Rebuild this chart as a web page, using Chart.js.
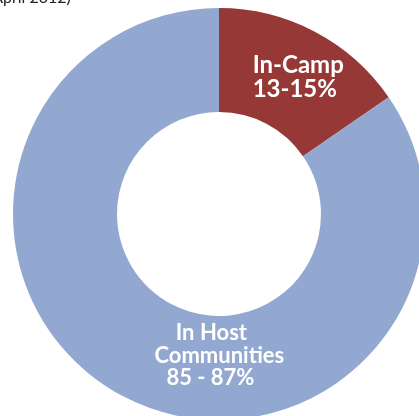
<!DOCTYPE html>
<html>
<head>
<meta charset="utf-8">
<script src="https://cdn.jsdelivr.net/npm/chart.js@4"></script>
<style>
html,body{margin:0;padding:0;width:419px;height:416px;overflow:hidden;background:#fff;}
#wrap{position:absolute;left:0;top:0;width:438px;height:428px;}
</style>
</head>
<body>
<div id="wrap"><canvas id="c"></canvas></div>
<script>
const categories = ["In-Camp", "In Host Communities"];
const labelLines = [["In-Camp", "13-15%"], ["In Host", "Communities", "85 - 87%"]];
const values = [15.4, 84.6];
const colors = ["#963835", "#93A8D0"];
const captionText = "(April 2012)";

const labelPlugin = {
  id: 'labels',
  afterDraw(chart) {
    const ctx = chart.ctx;
    const meta = chart.getDatasetMeta(0);
    ctx.save();
    ctx.fillStyle = '#ffffff';
    ctx.textBaseline = 'alphabetic';
    // In-Camp
    let tp = meta.data[0].tooltipPosition();
    ctx.font = 'bold 24px Lato';
    ctx.textAlign = 'left';
    ctx.fillText(labelLines[0][0], tp.x - 38, tp.y - 5);
    ctx.fillText(labelLines[0][1], tp.x - 38, tp.y + 19);
    // Host
    tp = meta.data[1].tooltipPosition();
    ctx.font = 'bold 22px Lato';
    ctx.textAlign = 'center';
    ctx.fillText(labelLines[1][0], tp.x + 64, tp.y - 10);
    ctx.fillText(labelLines[1][1], tp.x + 72, tp.y + 13);
    ctx.fillText(labelLines[1][2], tp.x + 63, tp.y + 35);
    // caption (cropped)
    ctx.fillStyle = '#222222';
    ctx.font = '16px Lato';
    ctx.textAlign = 'left';
    const w = ctx.measureText('(A').width;
    ctx.fillText(captionText, -w + 3, 3);
    ctx.restore();
  }
};

new Chart(document.getElementById('c'), {
  type: 'doughnut',
  data: {
    labels: categories,
    datasets: [{
      data: values,
      backgroundColor: colors,
      borderWidth: 0
    }]
  },
  options: {
    responsive: true,
    maintainAspectRatio: false,
    animation: false,
    cutout: '49.5%',
    layout: { padding: { left: 13, top: 8, right: 13, bottom: 8 } },
    plugins: { legend: { display: false }, tooltip: { enabled: false } }
  },
  plugins: [labelPlugin]
});
</script>
</body>
</html>
